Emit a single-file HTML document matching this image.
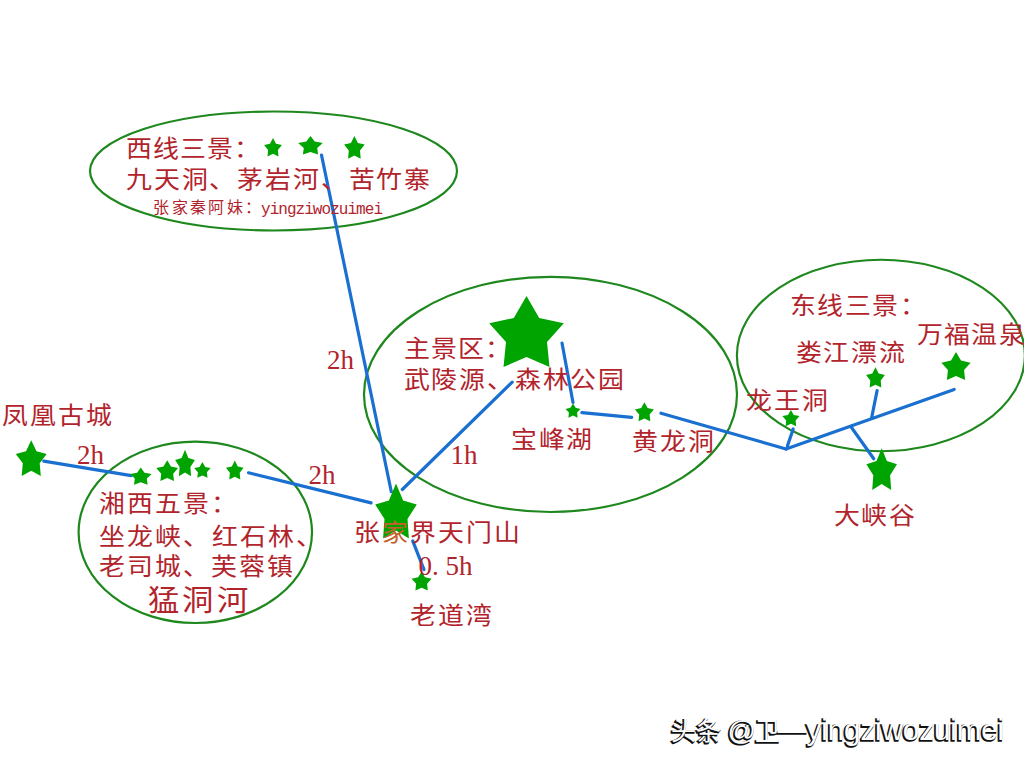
<!DOCTYPE html><html lang="zh-CN"><head><meta charset="utf-8"><style>html,body{margin:0;padding:0;background:#fff;width:1024px;height:768px;overflow:hidden}svg{display:block;font-family:"Liberation Serif",serif}</style></head><body>
<svg width="1024" height="768" viewBox="0 0 1024 768">
<rect width="1024" height="768" fill="#fff"/>
<ellipse cx="273.5" cy="171" rx="183.5" ry="59.5" fill="none" stroke="#1e881e" stroke-width="2.2"/>
<ellipse cx="550.5" cy="394.4" rx="186.5" ry="117.6" fill="none" stroke="#1e881e" stroke-width="2.2"/>
<ellipse cx="880.9" cy="355.5" rx="144" ry="95.75" fill="none" stroke="#1e881e" stroke-width="2.2"/>
<ellipse cx="195.3" cy="532.3" rx="116.7" ry="90.7" fill="none" stroke="#1e881e" stroke-width="2.2"/>
<line x1="321.5" y1="155" x2="391.3" y2="491.7" stroke="#1a70d0" stroke-width="3.2" stroke-linecap="round"/>
<line x1="512.2" y1="382.2" x2="402.3" y2="489.5" stroke="#1a70d0" stroke-width="3.2" stroke-linecap="round"/>
<line x1="43.75" y1="461.1" x2="131.25" y2="475.6" stroke="#1a70d0" stroke-width="3.2" stroke-linecap="round"/>
<line x1="248.5" y1="472.8" x2="371.1" y2="502.9" stroke="#1a70d0" stroke-width="3.2" stroke-linecap="round"/>
<line x1="412.7" y1="540.9" x2="424" y2="569.6" stroke="#1a70d0" stroke-width="3.2" stroke-linecap="round"/>
<line x1="562" y1="343" x2="573" y2="402.5" stroke="#1a70d0" stroke-width="3.2" stroke-linecap="round"/>
<line x1="581.9" y1="412.7" x2="631.7" y2="417.3" stroke="#1a70d0" stroke-width="3.2" stroke-linecap="round"/>
<line x1="661" y1="413.2" x2="786" y2="449" stroke="#1a70d0" stroke-width="3.2" stroke-linecap="round"/>
<line x1="786" y1="449" x2="954.2" y2="389.4" stroke="#1a70d0" stroke-width="3.2" stroke-linecap="round"/>
<line x1="787.4" y1="446" x2="793.2" y2="429" stroke="#1a70d0" stroke-width="3.2" stroke-linecap="round"/>
<line x1="871.7" y1="417.5" x2="877.1" y2="390.6" stroke="#1a70d0" stroke-width="3.2" stroke-linecap="round"/>
<line x1="850.8" y1="426.5" x2="873.75" y2="458.75" stroke="#1a70d0" stroke-width="3.2" stroke-linecap="round"/>
<polygon points="526.5,296.1 539.2,317.9 563.8,323.2 547.0,342.0 549.5,367.0 526.5,356.9 503.5,367.0 506.0,342.0 489.2,323.2 513.8,317.9" fill="#00a400"/>
<polygon points="273.0,138.0 276.0,143.7 281.9,145.0 277.9,149.9 278.5,156.5 273.0,153.8 267.5,156.5 268.1,149.9 264.1,145.0 270.0,143.7" fill="#00a400"/>
<polygon points="310.5,135.9 314.7,141.6 322.8,143.0 317.2,148.0 318.1,154.5 310.5,151.9 302.9,154.5 303.8,148.0 298.2,143.0 306.3,141.6" fill="#00a400"/>
<polygon points="354.4,135.9 357.9,142.9 364.7,144.6 360.0,150.6 360.7,158.7 354.4,155.4 348.1,158.7 348.8,150.6 344.1,144.6 350.9,142.9" fill="#00a400"/>
<polygon points="573.0,403.4 575.6,407.8 580.5,408.9 577.1,412.6 577.6,417.7 573.0,415.6 568.4,417.7 568.9,412.6 565.5,408.9 570.4,407.8" fill="#00a400"/>
<polygon points="644.4,402.3 647.6,408.1 653.9,409.6 649.6,414.6 650.3,421.3 644.4,418.6 638.5,421.3 639.2,414.6 634.9,409.6 641.2,408.1" fill="#00a400"/>
<polygon points="790.9,409.9 793.8,414.9 799.5,416.1 795.6,420.4 796.2,426.2 790.9,423.8 785.6,426.2 786.2,420.4 782.3,416.1 788.0,414.9" fill="#00a400"/>
<polygon points="875.5,367.3 878.7,373.5 884.9,375.0 880.7,380.4 881.3,387.6 875.5,384.7 869.7,387.6 870.3,380.4 866.1,375.0 872.3,373.5" fill="#00a400"/>
<polygon points="956.0,352.1 961.0,360.6 970.6,362.7 964.1,370.1 965.1,380.0 956.0,376.0 946.9,380.0 947.9,370.1 941.4,362.7 951.0,360.6" fill="#00a400"/>
<polygon points="881.7,448.3 886.9,461.1 897.0,464.2 890.1,475.2 891.2,489.9 881.7,483.9 872.2,489.9 873.3,475.2 866.4,464.2 876.5,461.1" fill="#00a400"/>
<polygon points="31.2,440.3 36.5,451.2 46.7,453.9 39.7,463.3 40.8,475.9 31.2,470.8 21.7,475.9 22.8,463.3 15.8,453.9 26.0,451.2" fill="#00a400"/>
<polygon points="140.8,467.5 144.5,472.8 151.7,474.1 146.8,478.6 147.6,484.7 140.8,482.2 134.0,484.7 134.8,478.6 129.9,474.1 137.1,472.8" fill="#00a400"/>
<polygon points="167.2,460.2 170.9,466.6 178.1,468.1 173.2,473.7 174.0,481.0 167.2,478.0 160.4,481.0 161.2,473.7 156.3,468.1 163.5,466.6" fill="#00a400"/>
<polygon points="185.0,449.8 188.4,457.9 194.9,459.9 190.4,466.9 191.1,476.2 185.0,472.4 178.9,476.2 179.6,466.9 175.1,459.9 181.6,457.9" fill="#00a400"/>
<polygon points="202.4,462.1 205.2,466.9 210.6,468.0 206.9,472.2 207.5,477.7 202.4,475.4 197.3,477.7 197.9,472.2 194.2,468.0 199.6,466.9" fill="#00a400"/>
<polygon points="234.8,460.6 237.8,466.4 243.6,467.8 239.7,472.8 240.3,479.4 234.8,476.7 229.3,479.4 229.9,472.8 226.0,467.8 231.8,466.4" fill="#00a400"/>
<polygon points="396.0,483.5 403.1,500.4 416.8,504.5 407.5,519.1 408.9,538.5 396.0,530.6 383.1,538.5 384.5,519.1 375.2,504.5 388.9,500.4" fill="#00a400"/>
<polygon points="421.6,571.5 425.0,577.3 431.6,578.8 427.1,583.8 427.8,590.5 421.6,587.8 415.4,590.5 416.1,583.8 411.6,578.8 418.2,577.3" fill="#00a400"/>
<text transform="translate(125.8 156.8) scale(1.08 1)" font-size="24" letter-spacing="1.12" fill="#b2242c">西线三景：</text>
<text transform="translate(125.8 187.6) scale(1.08 1)" font-size="24" letter-spacing="1.77" fill="#b2242c">九天洞、茅岩河、苦竹寨</text>
<text transform="translate(403.7 356.6) scale(1.08 1)" font-size="24" letter-spacing="1.10" fill="#b2242c">主景区：</text>
<text transform="translate(403.7 387.8) scale(1.08 1)" font-size="24" letter-spacing="1.69" fill="#b2242c">武陵源、森林公园</text>
<text transform="translate(511.2 448.3) scale(1.08 1)" font-size="24" letter-spacing="1.44" fill="#b2242c">宝峰湖</text>
<text transform="translate(631.6 450.3) scale(1.08 1)" font-size="24" letter-spacing="2.21" fill="#b2242c">黄龙洞</text>
<text transform="translate(790.0 313.6) scale(1.08 1)" font-size="24" letter-spacing="1.33" fill="#b2242c">东线三景：</text>
<text transform="translate(795.7 361.4) scale(1.08 1)" font-size="24" letter-spacing="1.60" fill="#b2242c">娄江漂流</text>
<text transform="translate(916.8 343.0) scale(1.08 1)" font-size="24" letter-spacing="1.23" fill="#b2242c">万福温泉</text>
<text transform="translate(745.6 409.1) scale(1.08 1)" font-size="24" letter-spacing="2.03" fill="#b2242c">龙王洞</text>
<text transform="translate(833.5 524.2) scale(1.08 1)" font-size="24" letter-spacing="1.90" fill="#b2242c">大峡谷</text>
<text transform="translate(2.1 424.0) scale(1.08 1)" font-size="24" letter-spacing="1.97" fill="#b2242c">凤凰古城</text>
<text transform="translate(99.0 511.9) scale(1.08 1)" font-size="24" letter-spacing="1.82" fill="#b2242c">湘西五景：</text>
<text transform="translate(99.0 544.5) scale(1.08 1)" font-size="24" letter-spacing="2.04" fill="#b2242c">坐龙峡、红石林、</text>
<text transform="translate(99.0 574.9) scale(1.08 1)" font-size="24" letter-spacing="1.98" fill="#b2242c">老司城、芙蓉镇</text>
<text transform="translate(148.4 611.0) scale(1.08 1)" font-size="29" letter-spacing="2.73" fill="#b2242c">猛洞河</text>
<text transform="translate(354.4 541.0) scale(1.08 1)" font-size="24" letter-spacing="1.83" fill="#b2242c">张<tspan fill="#c4602a">家</tspan>界天门山</text>
<text transform="translate(410.2 623.5) scale(1.08 1)" font-size="24" letter-spacing="1.62" fill="#b2242c">老道湾</text>
<text transform="translate(153.3 213.4) scale(1.0 1)" font-size="16" letter-spacing="2.34" fill="#b2242c">张家秦阿妹：</text>
<text x="77.1" y="464.4" font-size="27" fill="#b2242c">2h</text>
<text x="308.6" y="484.1" font-size="27" fill="#b2242c">2h</text>
<text x="327.1" y="368.5" font-size="27" fill="#b2242c">2h</text>
<text x="450.6" y="464.4" font-size="27" fill="#b2242c">1h</text>
<text y="574.5" font-size="27" fill="#b2242c"><tspan x="418.5">0</tspan><tspan x="432">.</tspan><tspan x="445.5">5</tspan><tspan x="459">h</tspan></text>
<text x="261" y="214.4" font-size="16" textLength="122" lengthAdjust="spacing" fill="#b2242c" style="font-family:'Liberation Mono',monospace">yingziwozuimei</text>
<text y="741" fill="#111" stroke="#111" stroke-width="1.7"><tspan x="669.5" font-size="25" style="font-family:'Liberation Sans',sans-serif">头条</tspan><tspan x="726.5" font-size="28" style="font-family:'Liberation Sans',sans-serif">@</tspan><tspan x="753.5" font-size="25" style="font-family:'Liberation Sans',sans-serif">卫</tspan><tspan x="776.5" font-size="29" style="font-family:'Liberation Sans',sans-serif">—</tspan><tspan x="805.5" font-size="29.4" style="font-family:'Liberation Sans',sans-serif">yingziwozuimei</tspan></text>
<text y="740.0" fill="#fff" stroke="#fff" stroke-width="0"><tspan x="670.5" font-size="25" style="font-family:'Liberation Sans',sans-serif">头条</tspan><tspan x="727.5" font-size="28" style="font-family:'Liberation Sans',sans-serif">@</tspan><tspan x="754.5" font-size="25" style="font-family:'Liberation Sans',sans-serif">卫</tspan><tspan x="777.5" font-size="29" style="font-family:'Liberation Sans',sans-serif">—</tspan><tspan x="806.5" font-size="29.4" style="font-family:'Liberation Sans',sans-serif">yingziwozuimei</tspan></text>
</svg></body></html>
